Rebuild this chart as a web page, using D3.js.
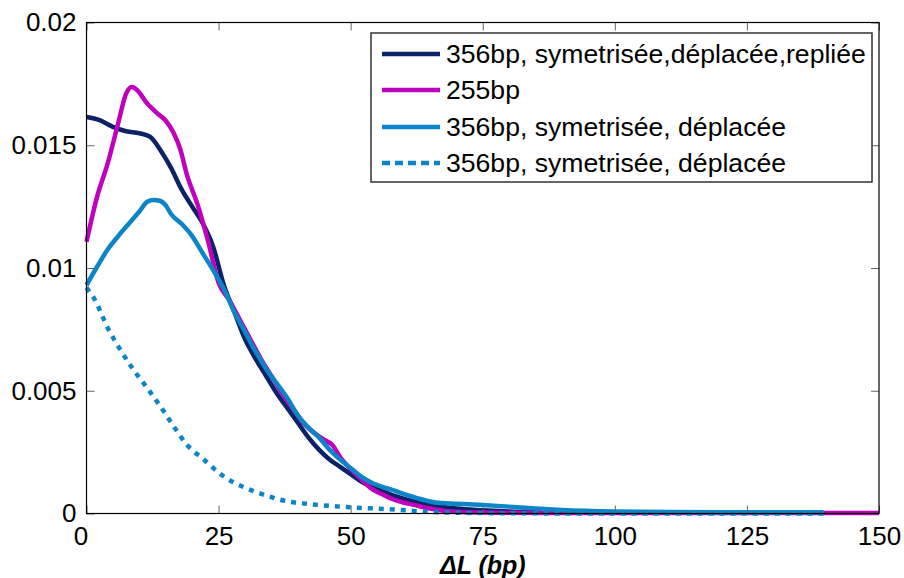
<!DOCTYPE html>
<html>
<head>
<meta charset="utf-8">
<script src="https://cdn.jsdelivr.net/npm/d3@7"></script>
<style>
  html, body { margin: 0; padding: 0; background: #fff; }
  svg text { font-family: "Liberation Sans", Arial, sans-serif; fill: #000; }
</style>
</head>
<body>
<svg id="chart" width="904" height="578"></svg>
<script>
// ---- data ----
const xTicks = [0, 25, 50, 75, 100, 125, 150];
const yTicks = [0, 0.005, 0.01, 0.015, 0.02];
const yTickLabels = ["0", "0.005", "0.01", "0.015", "0.02"];
const xLabel = "ΔL (bp)";

const seriesNames = [
  "356bp, symetrisée,déplacée,repliée",
  "255bp",
  "356bp, symetrisée, déplacée",
  "356bp, symetrisée, déplacée"
];
const seriesColors = ["#0c2266", "#bf00bf", "#0c85c8", "#0c85c8"];
const seriesDashed = [false, false, false, true];

const navyX = [0,2.5,5,7.5,10,12,14,16,18,20,22,24,26,28,30,32,34,36,38,40,42,44,46,48,50,52,55,60,65,70,75,80,90];
const navyY = [0.01615,0.01602,0.01575,0.01557,0.01549,0.01535,0.0148,0.01408,0.0132,0.0125,0.01182,0.01085,0.0093,0.0082,0.0071,0.0063,0.0056,0.0049,0.0043,0.0037,0.0031,0.0026,0.0022,0.0019,0.0016,0.0013,0.0010,0.0006,0.00035,0.0002,0.00013,0.00008,0.00003];

const magX = [0,2,4,6,7.5,8.6,9.6,11.5,13.4,15,16.5,17.8,19,21,23,25,27,29,31,33,35,37,39,41,43,45,46.5,48,50,52,54,56,58,60,62,64,66,68,72,80,90,100,120,150];
const magY = [0.01107,0.0129,0.01425,0.0159,0.0171,0.01737,0.01724,0.0167,0.0163,0.016,0.0155,0.0148,0.0138,0.0126,0.0111,0.0094,0.0087,0.0079,0.0071,0.0063,0.0056,0.0049,0.0043,0.0037,0.0033,0.0030,0.0028,0.0023,0.0018,0.0014,0.0010,0.00078,0.00058,0.00045,0.00035,0.00025,0.00016,0.0001,0.00005,0.00003,0.00002,0.00002,0.00002,0.00002];

const blueX = [0,2,4,6,8,10,11.5,12.7,14,15,16,18,20,22,24,26,28,30,32,34,36,38,40,42,44,46,48,50,52,54,56,58,60,63,66,70,75,80,85,90,100,110,120,130,139.5];
const blueY = [0.0093,0.01005,0.01075,0.0113,0.0118,0.0123,0.0127,0.01277,0.01273,0.01255,0.0122,0.0118,0.0113,0.0106,0.0099,0.00915,0.0082,0.0074,0.0066,0.0059,0.0053,0.0047,0.0040,0.0035,0.0031,0.0026,0.0022,0.00185,0.0015,0.00125,0.00108,0.00095,0.0008,0.0006,0.00045,0.0004,0.00035,0.00028,0.0002,0.00014,0.00008,0.00006,0.00005,0.00005,0.00005];

const dotX = [0,1.4,4.2,6.4,8.9,11.5,14,16.5,19,22.2,25.9,29.7,33.5,37.9,42.9,48.6,58.5,64.4,70,80,100,120,139.5];
const dotY = [0.0092,0.00877,0.00748,0.00667,0.00585,0.00511,0.00436,0.00355,0.0028,0.0022,0.00152,0.00108,0.00077,0.0005,0.00037,0.00027,0.00016,0.00007,0.00003,0.00001,0,0,0];

const seriesX = [navyX, magX, blueX, dotX];
const seriesY = [navyY, magY, blueY, dotY];

// ---- layout ----
const svg = d3.select("#chart");
const L = 86.5, R = 879, T = 22.5, B = 513.5;
const x = d3.scaleLinear().domain([0, 150]).range([L, R]);
const y = d3.scaleLinear().domain([0, 0.02]).range([B, T]);
const fs = 26;

// curves
const line = d3.line().x(d => x(d[0])).y(d => y(d[1])).curve(d3.curveMonotoneX);
seriesX.forEach((xs, i) => {
  const pts = xs.map((v, k) => [v, seriesY[i][k]]);
  svg.append("path")
    .attr("d", line(pts))
    .attr("fill", "none")
    .attr("stroke", seriesColors[i])
    .attr("stroke-width", 4.5)
    .attr("stroke-linejoin", "round")
    .attr("stroke-dasharray", seriesDashed[i] ? "5,6" : null);
});

// axes
const tickLen = 8;
const xAxis = svg.append("g").attr("transform", `translate(0,${B})`)
  .call(d3.axisBottom(x).tickValues(xTicks).tickSize(-tickLen).tickPadding(13).tickSizeOuter(0));
const yAxis = svg.append("g").attr("transform", `translate(${L},0)`)
  .call(d3.axisLeft(y).tickValues(yTicks).tickFormat((d, i) => yTickLabels[i]).tickSize(-tickLen).tickPadding(10).tickSizeOuter(0));
const xTop = svg.append("g").attr("transform", `translate(0,${T})`)
  .call(d3.axisTop(x).tickValues(xTicks).tickSize(-tickLen).tickFormat("").tickSizeOuter(0));
const yRight = svg.append("g").attr("transform", `translate(${R},0)`)
  .call(d3.axisRight(y).tickValues(yTicks).tickSize(-tickLen).tickFormat("").tickSizeOuter(0));

[xAxis, yAxis, xTop, yRight].forEach(g => {
  g.select(".domain").remove();
  g.selectAll(".tick line").attr("stroke", "#666").attr("stroke-width", 1);
  g.selectAll("text").attr("font-size", fs).attr("font-family", "Liberation Sans, Arial, sans-serif").attr("fill", "#000");
});
xAxis.selectAll(".tick text").filter(d => d === 0).attr("dx", -6);

// frame
svg.append("rect").attr("x", L).attr("y", T).attr("width", R - L).attr("height", B - T)
  .attr("fill", "none").attr("stroke", "#000").attr("stroke-width", 1.2);

// x label
svg.append("text").attr("x", (L + R) / 2).attr("y", 574).attr("text-anchor", "middle")
  .attr("font-size", 25).attr("font-weight", "bold").attr("font-style", "italic").text(xLabel);

// legend
const lg = svg.append("g");
lg.append("rect").attr("x", 371).attr("y", 33).attr("width", 501).attr("height", 149)
  .attr("fill", "#fff").attr("stroke", "#333").attr("stroke-width", 1.5);
const rowY = [54, 90, 127, 163];
seriesNames.forEach((name, i) => {
  lg.append("line").attr("x1", 382).attr("x2", 440).attr("y1", rowY[i]).attr("y2", rowY[i])
    .attr("stroke", seriesColors[i]).attr("stroke-width", 4.5)
    .attr("stroke-dasharray", seriesDashed[i] ? "8,5" : null);
  lg.append("text").attr("x", 446).attr("y", rowY[i] + 9).attr("font-size", 26.6).text(name);
});
</script>
</body>
</html>
